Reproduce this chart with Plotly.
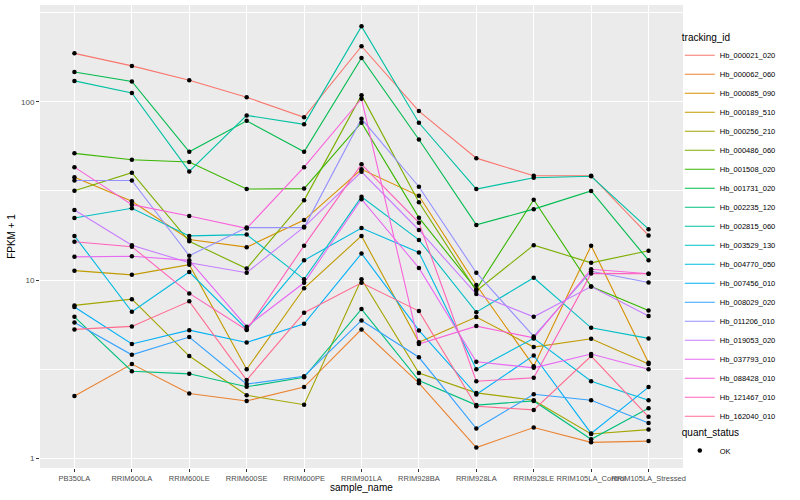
import plotly.graph_objects as go

samples = ["PB350LA", "RRIM600LA", "RRIM600LE", "RRIM600SE", "RRIM600PE", "RRIM901LA",
           "RRIM928BA", "RRIM928LA", "RRIM928LE", "RRIM105LA_Control", "RRIM105LA_Stressed"]

tracking_ids = ["Hb_000021_020", "Hb_000062_060", "Hb_000085_090", "Hb_000189_510", "Hb_000256_210",
                "Hb_000486_060", "Hb_001508_020", "Hb_001731_020", "Hb_002235_120", "Hb_002815_060",
                "Hb_003529_130", "Hb_004770_050", "Hb_007456_010", "Hb_008029_020", "Hb_011206_010",
                "Hb_019053_020", "Hb_037793_010", "Hb_088428_010", "Hb_121467_010", "Hb_162040_010"]

colors = ["#F8766D", "#EA8331", "#D89000", "#C09B00", "#A3A500", "#7CAE00", "#39B600", "#00BB4E",
          "#00BF7D", "#00C1A3", "#00BFC4", "#00BAE0", "#00B0F6", "#35A2FF", "#9590FF", "#C77CFF",
          "#E76BF3", "#FA62DB", "#FF62BC", "#FF6C91"]

# FPKM + 1 values per gene, in sample order
hb_000021_020 = [187, 159, 132, 106, 81.9, 205, 88.7, 48.3, 38.5, 38.5, 17.8]
hb_000062_060 = [2.24, 3.38, 2.31, 2.10, 2.51, 5.29, 2.64, 1.15, 1.49, 1.23, 1.25]
hb_000085_090 = [37.7, 27.7, 16.9, 15.3, 21.7, 41.8, 29.7, 9.38, 3.29, 15.6, 3.44]
hb_000189_510 = [11.3, 10.7, 12.2, 3.16, 9.0, 17.7, 4.48, 6.20, 4.21, 4.69, 3.38]
hb_000256_210 = [7.21, 7.82, 3.75, 2.26, 2.0, 10.1, 3.01, 2.33, 2.12, 1.37, 1.45]
hb_000486_060 = [31.7, 40.0, 16.5, 11.6, 28.0, 109, 27.3, 8.7, 15.7, 12.5, 14.6]
hb_001508_020 = [51.4, 47.3, 46.0, 32.4, 32.6, 76.3, 22.4, 8.87, 28.2, 9.2, 6.76]
hb_001731_020 = [147, 130, 52.4, 78.2, 52.4, 176, 61.5, 20.4, 25.0, 31.6, 12.9]
hb_002235_120 = [6.22, 3.08, 2.98, 2.52, 2.85, 6.88, 2.73, 1.99, 2.10, 1.28, 1.91]
hb_002815_060 = [131, 112, 40.7, 83.9, 74.8, 265, 76.3, 32.4, 37.5, 38.2, 19.3]
hb_003529_130 = [22.3, 25.3, 17.7, 18.0, 10.1, 29.3, 16.8, 6.61, 10.3, 5.40, 4.71]
hb_004770_050 = [17.7, 6.64, 11.1, 5.3, 12.9, 19.6, 14.3, 3.16, 4.71, 2.71, 2.12]
hb_007456_010 = [7.06, 4.38, 5.24, 4.47, 5.69, 14.1, 5.22, 2.28, 3.78, 1.38, 2.51]
hb_008029_020 = [5.79, 3.81, 4.79, 2.61, 2.89, 5.94, 3.69, 1.47, 2.29, 2.12, 1.58]
hb_011206_010 = [36.2, 36.2, 13.7, 19.7, 19.7, 80.3, 33.4, 11.0, 4.83, 11.2, 9.7]
hb_019053_020 = [24.7, 15.7, 12.5, 11.0, 19.9, 40.5, 19.1, 8.35, 6.22, 9.2, 6.28]
hb_037793_010 = [13.5, 13.6, 12.9, 5.48, 9.66, 28.4, 11.7, 3.48, 3.22, 3.85, 3.16]
hb_088428_010 = [43.0, 26.5, 22.9, 19.5, 43.0, 104, 4.38, 5.52, 4.74, 11.5, 10.85]
hb_121467_010 = [16.4, 15.4, 8.42, 5.25, 15.6, 44.6, 21.0, 2.71, 2.83, 10.9, 10.85]
hb_162040_010 = [5.29, 5.50, 7.60, 2.75, 6.56, 9.66, 6.70, 1.96, 1.87, 3.75, 1.71]

series = [hb_000021_020, hb_000062_060, hb_000085_090, hb_000189_510, hb_000256_210,
          hb_000486_060, hb_001508_020, hb_001731_020, hb_002235_120, hb_002815_060,
          hb_003529_130, hb_004770_050, hb_007456_010, hb_008029_020, hb_011206_010,
          hb_019053_020, hb_037793_010, hb_088428_010, hb_121467_010, hb_162040_010]

quant_status = "OK"

FONT = "Liberation Sans, Arial, sans-serif"
fig = go.Figure()

for tid, col, vals in zip(tracking_ids, colors, series):
    fig.add_trace(go.Scatter(x=samples, y=vals, mode="lines", name=tid,
                             line=dict(color=col, width=1.1), legend="legend"))

for i, vals in enumerate(series):
    fig.add_trace(go.Scatter(x=samples, y=vals, mode="markers", name=quant_status,
                             marker=dict(color="black", size=4.5, symbol="circle"),
                             showlegend=(i == 0), legend="legend2", hoverinfo="skip"))

fig.update_layout(
    width=800, height=500,
    margin=dict(l=40, r=117, t=5, b=32, autoexpand=False),
    paper_bgcolor="white", plot_bgcolor="#EBEBEB",
    font=dict(family=FONT, color="#4D4D4D", size=8),
    xaxis=dict(type="category", range=[-0.6, 10.6], showgrid=True, gridcolor="white", gridwidth=1.1,
               zeroline=False, ticks="outside", ticklen=3, tickcolor="#333333", tickwidth=1,
               tickangle=0, tickfont=dict(size=7.5, color="#4D4D4D"), automargin=False),
    yaxis=dict(type="log", range=[-0.054, 2.543], tickvals=[1, 10, 100], ticktext=["1", "10", "100"],
               showgrid=True, gridcolor="white", gridwidth=1.1, zeroline=False,
               ticks="outside", ticklen=3, tickcolor="#333333", tickwidth=1,
               tickfont=dict(size=8, color="#4D4D4D"), automargin=False,
               minor=dict(tickvals=[3.1623, 31.623, 316.23], showgrid=True, gridcolor="white",
                          gridwidth=0.5, ticks=""),
               title=dict(text="FPKM + 1", font=dict(size=10, color="black"), standoff=3)),
    annotations=[dict(text="sample_name", xref="paper", yref="paper", x=0.5, y=-0.043,
                      xanchor="center", yanchor="middle", showarrow=False,
                      font=dict(size=10, color="black", family=FONT))],
    legend=dict(x=0.995, y=0.951, xanchor="left", yanchor="top", bgcolor="rgba(0,0,0,0)",
                title=dict(text="tracking_id", font=dict(size=10, color="black")),
                font=dict(size=7.5, color="black"), itemwidth=30, tracegroupgap=0),
    legend2=dict(x=0.995, y=0.097, xanchor="left", yanchor="top", bgcolor="rgba(0,0,0,0)",
                 title=dict(text="quant_status", font=dict(size=10, color="black")),
                 font=dict(size=7.5, color="black"), itemwidth=30),
    showlegend=True,
)

fig.write_html("out.html", config={"displayModeBar": False},
               post_script="document.body.style.margin='0px';")
